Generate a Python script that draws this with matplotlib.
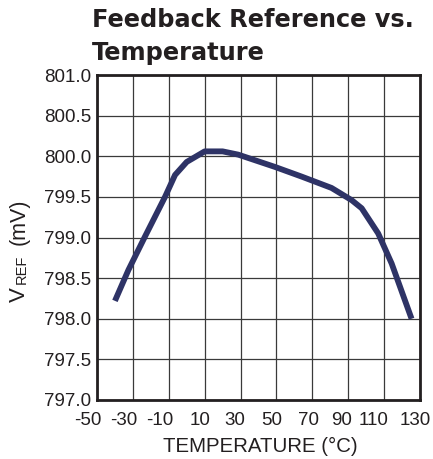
import matplotlib
matplotlib.use("Agg")
import matplotlib.pyplot as plt
from matplotlib.transforms import ScaledTranslation

plt.rcParams['font.family'] = ['Liberation Sans', 'DejaVu Sans']

temperature = [-40, -32.5, -23.3, -12.1, -6.5, 0, 10, 20, 28.7, 49, 64, 80.7, 91.9, 97.5, 106.7, 114.2, 125.3]
vref = [798.22, 798.6, 799.01, 799.50, 799.77, 799.93, 800.06, 800.06, 800.02, 799.87, 799.75, 799.61, 799.46, 799.36, 799.05, 798.68, 798.0]
x_ticks = [-50, -30, -10, 10, 30, 50, 70, 90, 110, 130]
y_ticks = [797.0, 797.5, 798.0, 798.5, 799.0, 799.5, 800.0, 800.5, 801.0]

W, H = 433, 459
fig = plt.figure(figsize=(W/100, H/100), dpi=100)
ax = fig.add_axes([97/W, 1-400/H, (420-97)/W, (400-75)/H])

txt = '#231f20'
ax.plot(temperature, vref, color='#2e3366', lw=4.2, solid_capstyle='butt', zorder=3)
ax.set_xlim(-50, 130)
ax.set_ylim(797, 801)
ax.set_xticks(x_ticks)
ax.set_yticks(y_ticks)
ax.set_xticklabels([str(t) for t in x_ticks])
ax.set_yticklabels([f"{v:.1f}" for v in y_ticks])
ax.tick_params(length=0, labelsize=13.5, colors=txt)
ax.tick_params(axis='x', pad=8.5)
ax.tick_params(axis='y', pad=4)
ax.grid(True, color='#3a3a3a', lw=0.9)
for s in ax.spines.values():
    s.set_linewidth(2.0)
    s.set_color(txt)

# small horizontal shifts of x tick labels as in the reference (pixels)
x_shift = [-9.5, -9, -9, -5, -6, -4.5, -3.5, -7, -11, -5]
for lbl, dx in zip(ax.get_xticklabels(), x_shift):
    lbl.set_transform(lbl.get_transform() + ScaledTranslation(dx/100, 0, fig.dpi_scale_trans))

# x label
fig.text(260/W, 1-452/H, 'TEMPERATURE (°C)', fontsize=14.7, color=txt, ha='center', va='baseline')

# y label: V, subscript REF, (mV)
fig.text(25/W, 1-302/H, 'V', fontsize=16, color=txt, rotation=90, rotation_mode='anchor', ha='left', va='baseline')
fig.text(26/W, 1-284/H, 'REF', fontsize=10.5, color=txt, rotation=90, rotation_mode='anchor', ha='left', va='baseline')
fig.text(25/W, 1-245/H, '(mV)', fontsize=15.5, color=txt, rotation=90, rotation_mode='anchor', ha='left', va='baseline')

# title
fig.text(92/W, 1-27/H, 'Feedback Reference vs.', fontsize=17.3, fontweight='bold', color=txt, ha='left', va='baseline', family=['DejaVu Sans'])
fig.text(92/W, 1-60/H, 'Temperature', fontsize=17.3, fontweight='bold', color=txt, ha='left', va='baseline', family=['DejaVu Sans'])

fig.savefig('out.png', dpi=100)
